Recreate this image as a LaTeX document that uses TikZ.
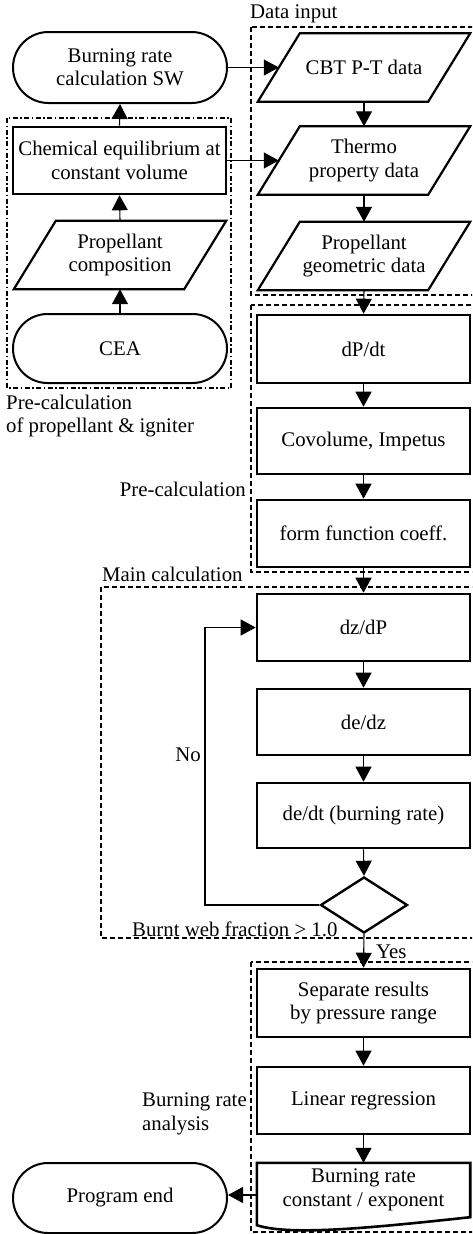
\documentclass[tikz,border=0pt]{standalone}
\usepackage{fontspec}
\setmainfont{Liberation Serif}
\usetikzlibrary{arrows.meta,shapes.geometric,shapes.misc}
\newcommand\drawpara[1]{\draw[line width=2.2pt, line join=miter]
  ([xshift=21pt]#1.north west) -- ([xshift=21pt]#1.north east) --
  ([xshift=-21pt]#1.south east) -- ([xshift=-21pt]#1.south west) -- cycle;}
\begin{document}
\begin{tikzpicture}[x=1pt,y=-1pt,
  every node/.style={font=\fontsize{20.8}{23.5}\selectfont, align=center, inner sep=0pt},
  proc/.style={draw, rectangle, line width=2.6pt, minimum width=213pt},
  io/.style={rectangle, minimum width=170pt, minimum height=68pt},
  term/.style={draw, rounded rectangle, line width=2pt, minimum width=214pt},
  dec/.style={draw, diamond, line width=2.4pt, minimum width=87pt, minimum height=56pt},
  grp/.style={line width=1.3pt, dash pattern=on 5pt off 3pt},
  grpdd/.style={line width=1.1pt, dash pattern=on 5pt off 2.5pt on 1.5pt off 2.5pt},
  conn/.style={line width=1.1pt, -{Triangle[length=15pt,width=16pt]}},
  lbl/.style={}
]
\useasboundingbox (0,0) rectangle (472,1234);
\clip (0,0) rectangle (472,1234);

% groups
\draw[grp] (251,27) rectangle (482,295);
\draw[grp] (251,305) rectangle (482,572);
\draw[grp] (101,587) rectangle (482,938);
\draw[grp] (251,962) rectangle (482,1232);
\draw[grpdd] (7,118) rectangle (231,388);

% group labels
\node[lbl, anchor=west] (ldata) at (250,14) {Data input};
\node[lbl, anchor=west, align=left] (lprecalc1) at (6,416) {Pre-calculation\\of propellant \& igniter};
\node[lbl, anchor=east] (lprecalc2) at (246,489) {Pre-calculation};
\node[lbl, anchor=west] (lmain) at (102,574) {Main calculation};
\node[lbl, anchor=west, align=left] (lbra) at (142,1114) {Burning rate\\analysis};

% left column
\node[term, minimum height=71pt] (sw) at (120,67.5) {Burning rate\\calculation SW};
\node[proc, minimum height=67pt] (chem) at (119.5,160.5) {Chemical equilibrium at\\constant volume};
\node[io] (comp) at (120,255) {Propellant\\composition};
\drawpara{comp}
\node[term, minimum height=69pt] (cea) at (120,348.5) {CEA};
\node[term, minimum height=70pt] (pend) at (120,1198) {Program end};

% right column
\node[io] (cbt) at (364,67.5) {CBT P-T data};
\drawpara{cbt}
\node[io] (thermo) at (364,160.5) {Thermo\\property data};
\drawpara{thermo}
\node[io] (geo) at (364,256) {Propellant\\geometric data};
\drawpara{geo}
\node[proc, minimum height=68pt] (dpdt) at (363.5,349) {dP/dt};
\node[proc, minimum height=66pt] (cov) at (363.5,441) {Covolume, Impetus};
\node[proc, minimum height=67pt] (form) at (363.5,533.5) {form function coeff.};
\node[proc, minimum height=67pt] (dzdp) at (363.5,627.5) {dz/dP};
\node[proc, minimum height=66pt] (dedz) at (363.5,722) {de/dz};
\node[proc, minimum height=65pt] (dedt) at (363.5,815.5) {de/dt (burning rate)};
\node[dec] (dia) at (364,905) {};
\node[proc, minimum height=68pt] (sep) at (363.5,1003) {Separate results\\by pressure range};
\node[proc, minimum height=67pt] (lin) at (363.5,1100.5) {Linear regression};
\node[rectangle, minimum width=213pt, minimum height=54pt] (doc) at (363.5,1190) {Burning rate\\constant / exponent};
\draw[line width=2.6pt, line join=miter]
  (doc.south east) -- (doc.north east) -- (doc.north west) -- ([yshift=-8pt]doc.south west)
  .. controls (290,1236) and (370,1228) .. (doc.south east) -- cycle;

\node[lbl, anchor=west] (lburnt) at (132,929) {Burnt web fraction > 1.0};
\node[lbl, anchor=west] (lyes) at (376,952) {Yes};
\node[lbl] (lno) at (188,755) {No};

% connectors
\draw[conn] (sw.east) -- (cbt.west);
\draw[conn] (chem.east) -- (thermo.west);
\draw[conn] (chem.north) -- (sw.south);
\draw[conn] (comp.north) -- (chem.south);
\draw[conn] (cea.north) -- (comp.south);
\draw[conn] (cbt.south) -- (thermo.north);
\draw[conn] (thermo.south) -- (geo.north);
\draw[conn] (geo.south) -- (dpdt.north);
\draw[conn] (dpdt) -- (cov);
\draw[conn] (cov) -- (form);
\draw[conn] (form) -- (dzdp);
\draw[conn] (dzdp) -- (dedz);
\draw[conn] (dedz) -- (dedt);
\draw[conn] (dedt.south) -- (dia.north);
\coordinate (loop) at (205,905);
\draw[conn] (dia.west) -- (loop) |- (dzdp.west);
\draw[conn] (dia.south) -- (sep.north);
\draw[conn] (sep) -- (lin);
\draw[conn] (lin) -- (doc);
\coordinate (docw) at ([yshift=-5pt]doc.west);
\draw[conn] (docw) -- (docw -| pend.east);
\end{tikzpicture}
\end{document}
